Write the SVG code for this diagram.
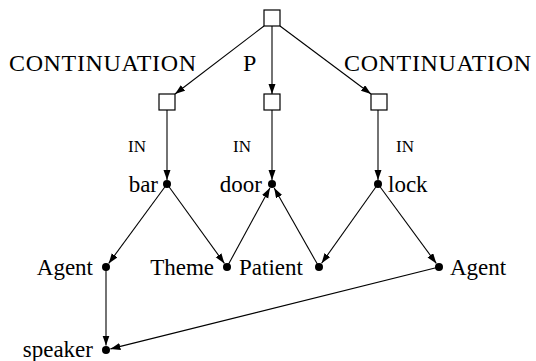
<svg xmlns="http://www.w3.org/2000/svg" width="536" height="361" viewBox="0 0 536 361">
<style>
text{font-family:'Liberation Serif','Times New Roman',serif;fill:#000}
.lbl{font-size:23px}
.top{font-size:24px}
.sc{font-size:17px}
.box{fill:#fff;stroke:#000;stroke-width:1.2}
.dot{fill:#000}
.edge{stroke:#000;stroke-width:1.1;fill:none;marker-end:url(#ah)}
</style>
<defs>
<marker id="ah" markerUnits="userSpaceOnUse" markerWidth="11" markerHeight="8" refX="10" refY="3.5" orient="auto">
<path d="M0,0 L10,3.5 L0,7 z" fill="#000"/>
</marker>
</defs>
<g id="edges">
<line class="edge" x1="264" y1="26" x2="175" y2="94"/>
<line class="edge" x1="272" y1="26" x2="272" y2="94"/>
<line class="edge" x1="280" y1="26" x2="371" y2="94"/>
<line class="edge" x1="167" y1="110" x2="167" y2="180"/>
<line class="edge" x1="272" y1="110" x2="272" y2="180"/>
<line class="edge" x1="378" y1="110" x2="378" y2="180"/>
<line class="edge" x1="167" y1="184" x2="108.7" y2="263.4"/>
<line class="edge" x1="167" y1="184" x2="224.4" y2="263.4"/>
<line class="edge" x1="227" y1="267" x2="269.9" y2="188"/>
<line class="edge" x1="319" y1="267" x2="274.2" y2="187.9"/>
<line class="edge" x1="378" y1="184" x2="321.6" y2="263.3"/>
<line class="edge" x1="378" y1="184" x2="436.3" y2="263.4"/>
<line class="edge" x1="106" y1="267" x2="106" y2="345.5"/>
<line class="edge" x1="439" y1="267" x2="110.4" y2="348.9"/>
<text class="top" x="9" y="71" textLength="187" lengthAdjust="spacing">CONTINUATION</text>
<text class="top" x="243" y="71">P</text>
<text class="top" x="344" y="71" textLength="187" lengthAdjust="spacing">CONTINUATION</text>
<text class="sc" x="128" y="152">IN</text>
<text class="sc" x="233" y="152">IN</text>
<text class="sc" x="396" y="152">IN</text>
</g>
<g id="root"><rect class="box" x="264" y="10" width="16" height="16"/></g>
<g id="c1"><rect class="box" x="159" y="94" width="16" height="16"/></g>
<g id="p"><rect class="box" x="264" y="94" width="16" height="16"/></g>
<g id="c2"><rect class="box" x="371" y="94" width="16" height="16"/></g>
<g id="bar"><circle class="dot" cx="167" cy="184" r="4"/><text class="lbl" x="158" y="192" text-anchor="end">bar</text></g>
<g id="door"><circle class="dot" cx="272" cy="184" r="4"/><text class="lbl" x="262" y="192" text-anchor="end">door</text></g>
<g id="lock"><circle class="dot" cx="378" cy="184" r="4"/><text class="lbl" x="388" y="192">lock</text></g>
<g id="agent1"><circle class="dot" cx="106" cy="267" r="4"/><text class="lbl" x="93" y="275" text-anchor="end">Agent</text></g>
<g id="theme"><circle class="dot" cx="227" cy="267" r="4"/><text class="lbl" x="214" y="275" text-anchor="end">Theme</text></g>
<g id="patient"><circle class="dot" cx="319" cy="267" r="4"/><text class="lbl" x="239" y="275">Patient</text></g>
<g id="agent2"><circle class="dot" cx="439" cy="267" r="4"/><text class="lbl" x="450" y="275">Agent</text></g>
<g id="speaker"><circle class="dot" cx="106" cy="350" r="4"/><text class="lbl" x="93" y="357" text-anchor="end">speaker</text></g>
</svg>
